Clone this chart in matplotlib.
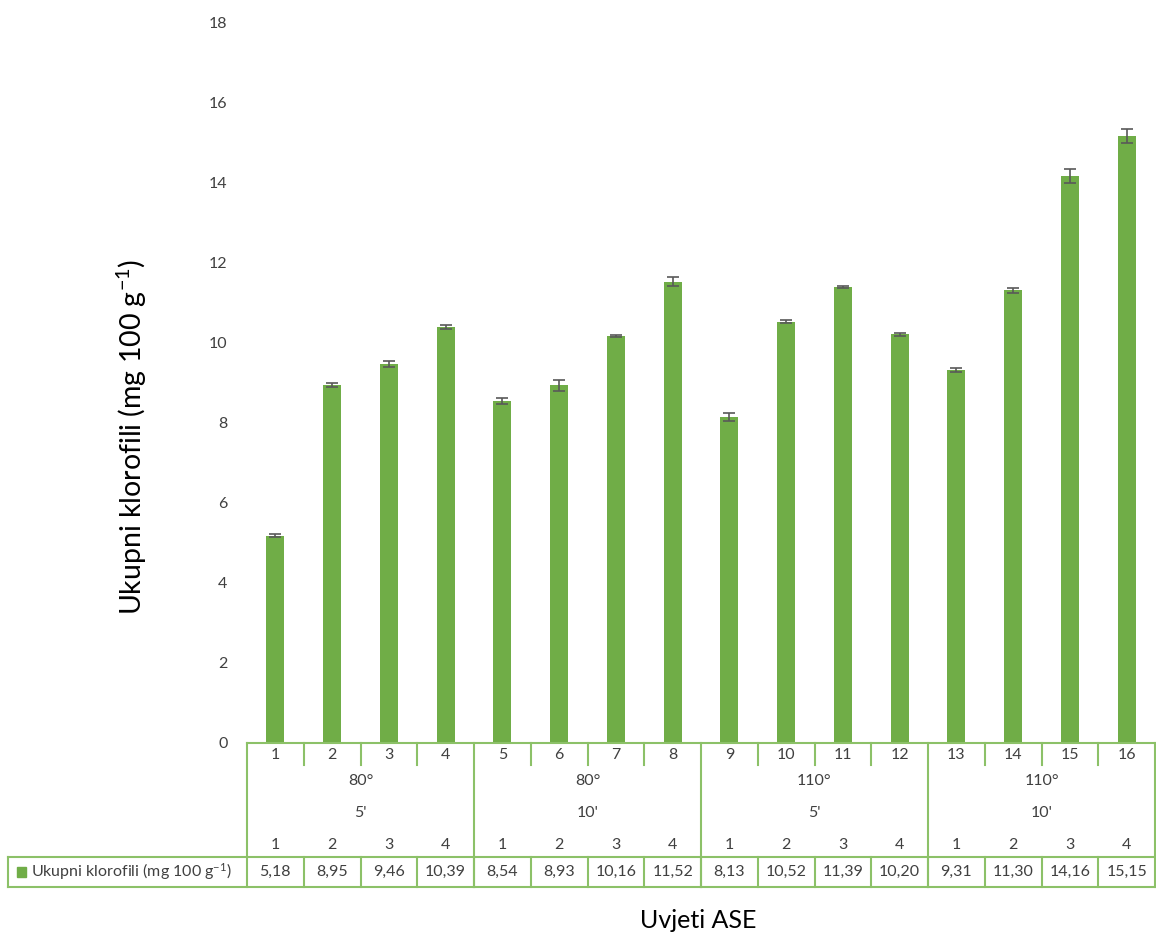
import numpy as np
import matplotlib.pyplot as plt
import matplotlib.patches as mpatches

# podaci
categories = [str(i) for i in range(1, 17)]
values = [5.18, 8.95, 9.46, 10.39, 8.54, 8.93, 10.16, 11.52,
          8.13, 10.52, 11.39, 10.20, 9.31, 11.30, 14.16, 15.15]
errors = [0.04, 0.05, 0.07, 0.05, 0.07, 0.14, 0.02, 0.12,
          0.10, 0.04, 0.03, 0.03, 0.04, 0.07, 0.18, 0.17]
value_labels = ['5,18', '8,95', '9,46', '10,39', '8,54', '8,93', '10,16', '11,52',
                '8,13', '10,52', '11,39', '10,20', '9,31', '11,30', '14,16', '15,15']
groups_temp = ['80°', '80°', '110°', '110°']
groups_time = ["5'", "10'", "5'", "10'"]
sub_labels = ['1', '2', '3', '4']
series_name = 'Ukupni klorofili (mg 100 g$^{-1}$)'

bar_color = '#70AD47'
line_color = '#8CC168'
text_color = '#404040'
plt.rcParams['font.family'] = ['Lato', 'DejaVu Sans']
plt.rcParams['mathtext.default'] = 'regular'

W, H = 1156, 939
fig = plt.figure(figsize=(W / 100, H / 100), dpi=100)
x0, x1, y0, y1 = 247, 1155, 743, 22
ax = fig.add_axes([x0 / W, (H - y0) / H, (x1 - x0) / W, (y0 - y1) / H])

x = np.arange(len(values))
ax.bar(x, values, width=0.32, color=bar_color, zorder=2)
ax.errorbar(x, values, yerr=errors, fmt='none', ecolor='#595959',
            elinewidth=1.2, capsize=4, capthick=1.2, zorder=3)

ax.set_xlim(-0.5, len(values) - 0.5)
ax.set_ylim(0, 18)
ax.set_yticks(np.arange(0, 19, 2))
ax.tick_params(axis='y', length=0, pad=14, labelsize=11.5, labelcolor=text_color)
ax.set_xticks([])
for s in ['top', 'right', 'left']:
    ax.spines[s].set_visible(False)
ax.spines['bottom'].set_color(line_color)
ax.spines['bottom'].set_linewidth(1.5)

fig.text(132 / W, 1 - 437 / H, 'Ukupni klorofili (mg 100 g$^{-1}$)',
         rotation=90, ha='center', va='center', fontsize=20.5, color='black')

# tablica ispod osi (x u podacima, y u pikselima)
trans = ax.get_xaxis_transform()
ah = y0 - y1


def fy(py):
    return (y0 - py) / ah


def vline(xd, pa, pb, **kw):
    ax.plot([xd, xd], [fy(pa), fy(pb)], transform=trans, clip_on=False,
            color=line_color, lw=1.5, **kw)


def hline(xa, xb, py):
    ax.plot([xa, xb], [fy(py), fy(py)], transform=trans, clip_on=False,
            color=line_color, lw=1.5)


fs = 11.5
for i, c in enumerate(categories):
    ax.text(i, fy(755), c, transform=trans, ha='center', va='center',
            fontsize=fs, color=text_color)
    ax.text(i, fy(845), sub_labels[i % 4], transform=trans, ha='center',
            va='center', fontsize=fs, color=text_color)
    ax.text(i, fy(872), value_labels[i], transform=trans, ha='center',
            va='center', fontsize=fs, color=text_color)

for b in range(1, 16):
    if b % 4:
        vline(b - 0.5, 743, 765)
    vline(b - 0.5, 857, 887)
for g in range(5):
    vline(g * 4 - 0.5, 743, 887)

for g in range(4):
    cx = g * 4 + 1.5
    ax.text(cx, fy(781), groups_temp[g], transform=trans, ha='center',
            va='center', fontsize=fs, color=text_color)
    ax.text(cx, fy(813), groups_time[g], transform=trans, ha='center',
            va='center', fontsize=fs, color=text_color)

# legendarna ćelija
step = (x1 - x0) / 16
xd_left = -0.5 + (8 - x0) / step
hline(xd_left, 15.5, 857)
hline(xd_left, 15.5, 887)
vline(xd_left, 857, 887)
sq_x = -0.5 + (17 - x0) / step
ax.add_patch(mpatches.Rectangle((sq_x, fy(877)), 9 / step, fy(867) - fy(877),
                                transform=trans, clip_on=False,
                                color=bar_color))
ax.text(-0.5 + (31 - x0) / step, fy(872), series_name,
        transform=trans, ha='left', va='center', fontsize=fs,
        color=text_color)

fig.text(698 / W, 1 - 921 / H, 'Uvjeti ASE', ha='center', va='center',
         fontsize=18, color='black')

fig.savefig('out.png', dpi=100)
